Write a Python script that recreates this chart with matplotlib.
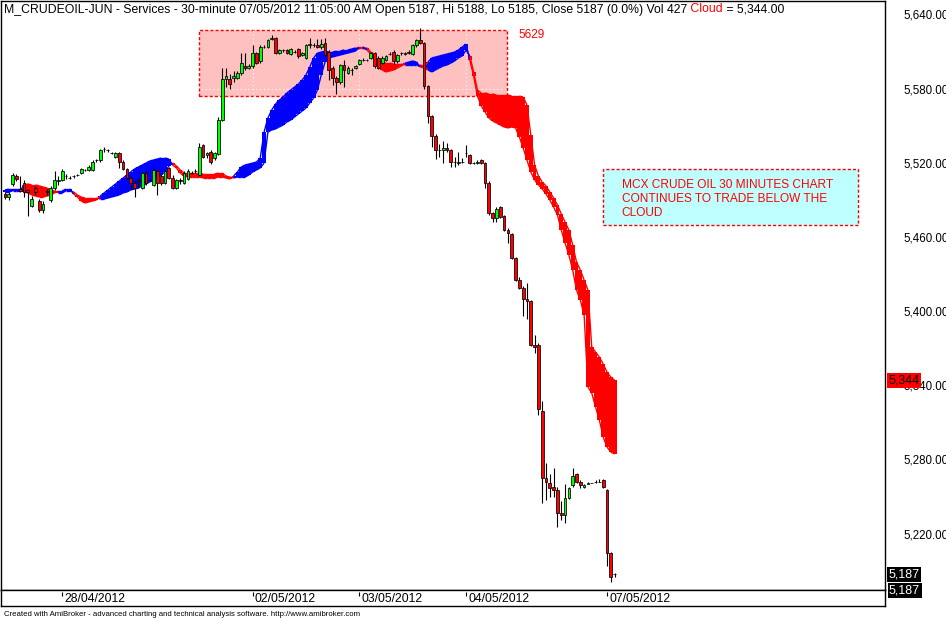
import numpy as np
import matplotlib
matplotlib.use("Agg")
import matplotlib.pyplot as plt
from matplotlib.patches import Rectangle
from matplotlib.collections import LineCollection
from matplotlib.transforms import blended_transform_factory

plt.rcParams['font.family'] = ['Liberation Sans', 'DejaVu Sans']

# 30-minute bars, M_CRUDEOIL-JUN, 27/04/2012 .. 07/05/2012
opens = [5495, 5492, 5503, 5509, 5499, 5504, 5498, 5485, 5500, 5489,
         5482, 5496, 5490, 5500, 5505, 5506, 5509, 5508, 5509, 5510,
         5512, 5514, 5514, 5514, 5522, 5522, 5531, 5530, 5528, 5525,
         5528, 5521, 5515, 5508, 5504, 5505, 5500, 5512, 5506, 5502,
         5513, 5509, 5504, 5516, 5508, 5500, 5506, 5504, 5507, 5512,
         5513, 5510, 5534, 5526, 5529, 5524, 5527, 5555, 5588, 5588,
         5589, 5589, 5593, 5598, 5597, 5598, 5609, 5602, 5614, 5614,
         5620, 5621, 5609, 5611, 5611, 5608, 5610, 5612, 5607, 5605,
         5615, 5615, 5615, 5614, 5617, 5610, 5597, 5589, 5585, 5599,
         5593, 5595, 5597, 5600, 5603, 5603, 5605, 5609, 5605, 5601,
         5603, 5608, 5610, 5602, 5609, 5608, 5609, 5608, 5615, 5619,
         5617, 5582, 5558, 5542, 5530, 5530, 5532, 5530, 5521, 5520,
         5521, 5528, 5526, 5520, 5520, 5522, 5520, 5504, 5479, 5475,
         5484, 5477, 5466, 5462, 5443, 5425, 5419, 5410, 5408, 5373,
         5373, 5319, 5265, 5261, 5258, 5255, 5237, 5235, 5249, 5259,
         5268, 5262, 5258, 5260, 5261, 5262, 5262, 5263, 5255, 5204,
         5187]
highs = [5496, 5496, 5512, 5511, 5509, 5506, 5499, 5493, 5501, 5491,
         5489, 5499, 5501, 5513, 5509, 5515, 5511, 5509, 5510, 5511,
         5516, 5515, 5518, 5522, 5523, 5531, 5533, 5531, 5529, 5529,
         5529, 5522, 5516, 5509, 5505, 5508, 5513, 5514, 5507, 5516,
         5514, 5511, 5514, 5517, 5510, 5507, 5508, 5513, 5515, 5513,
         5515, 5536, 5535, 5529, 5530, 5529, 5557, 5597, 5597, 5592,
         5594, 5594, 5609, 5609, 5600, 5615, 5610, 5615, 5615, 5620,
         5623, 5622, 5612, 5612, 5612, 5613, 5611, 5613, 5610, 5616,
         5621, 5617, 5620, 5620, 5621, 5611, 5598, 5590, 5600, 5603,
         5598, 5597, 5599, 5604, 5605, 5604, 5610, 5610, 5606, 5606,
         5607, 5610, 5611, 5608, 5610, 5610, 5611, 5616, 5620, 5629,
         5618, 5583, 5559, 5543, 5535, 5538, 5536, 5531, 5525, 5529,
         5524, 5534, 5527, 5521, 5522, 5523, 5521, 5505, 5480, 5484,
         5485, 5478, 5467, 5463, 5444, 5428, 5420, 5423, 5409, 5381,
         5374, 5327, 5277, 5268, 5273, 5258, 5246, 5260, 5258, 5273,
         5269, 5263, 5260, 5262, 5261, 5263, 5264, 5264, 5256, 5205,
         5188]
lows = [5491, 5490, 5501, 5505, 5496, 5492, 5477, 5484, 5494, 5480,
        5479, 5494, 5488, 5498, 5502, 5505, 5507, 5507, 5508, 5509,
        5511, 5513, 5513, 5513, 5521, 5521, 5529, 5529, 5527, 5524,
        5516, 5514, 5507, 5499, 5492, 5500, 5499, 5502, 5505, 5501,
        5494, 5502, 5503, 5507, 5499, 5499, 5503, 5503, 5506, 5511,
        5512, 5509, 5524, 5524, 5519, 5522, 5526, 5554, 5581, 5580,
        5585, 5588, 5591, 5595, 5596, 5597, 5600, 5601, 5613, 5613,
        5619, 5608, 5608, 5610, 5608, 5607, 5609, 5605, 5606, 5604,
        5613, 5614, 5613, 5612, 5606, 5587, 5583, 5576, 5584, 5581,
        5592, 5591, 5596, 5599, 5602, 5602, 5604, 5597, 5596, 5600,
        5602, 5607, 5600, 5601, 5607, 5607, 5608, 5607, 5614, 5616,
        5580, 5552, 5533, 5523, 5525, 5520, 5529, 5517, 5517, 5518,
        5520, 5525, 5519, 5519, 5519, 5519, 5500, 5478, 5472, 5472,
        5475, 5465, 5455, 5442, 5424, 5418, 5396, 5394, 5372, 5366,
        5316, 5245, 5247, 5250, 5250, 5225, 5231, 5229, 5248, 5258,
        5261, 5257, 5257, 5260, 5261, 5261, 5262, 5257, 5194, 5181,
        5185]
closes = [5492, 5495, 5510, 5507, 5497, 5496, 5496, 5491, 5496, 5482,
          5487, 5497, 5500, 5506, 5506, 5513, 5509, 5508, 5509, 5510,
          5515, 5514, 5517, 5521, 5522, 5530, 5531, 5530, 5528, 5528,
          5521, 5515, 5508, 5504, 5500, 5506, 5512, 5504, 5506, 5514,
          5504, 5504, 5513, 5508, 5500, 5506, 5505, 5512, 5513, 5512,
          5513, 5533, 5525, 5528, 5521, 5528, 5555, 5588, 5590, 5584,
          5590, 5593, 5601, 5597, 5598, 5609, 5601, 5614, 5614, 5619,
          5621, 5609, 5611, 5611, 5609, 5612, 5610, 5606, 5609, 5615,
          5616, 5615, 5614, 5616, 5607, 5595, 5589, 5585, 5599, 5595,
          5597, 5595, 5598, 5603, 5603, 5603, 5609, 5598, 5597, 5605,
          5606, 5608, 5602, 5607, 5609, 5609, 5610, 5615, 5619, 5617,
          5582, 5558, 5542, 5530, 5530, 5532, 5530, 5521, 5521, 5521,
          5521, 5528, 5520, 5520, 5521, 5520, 5504, 5479, 5475, 5483,
          5476, 5466, 5463, 5443, 5425, 5419, 5410, 5408, 5373, 5371,
          5321, 5265, 5262, 5257, 5255, 5237, 5235, 5249, 5257, 5267,
          5262, 5259, 5259, 5261, 5261, 5262, 5262, 5258, 5204, 5185,
          5187]

# Ichimoku leading spans (cloud), one value per bar
span_a = [5498.0, 5498.8, 5498.8, 5498.8, 5498.8, 5496.4, 5495.6, 5494.0, 5493.1, 5492.3,
          5492.3, 5493.1, 5494.0, 5495.6, 5497.2, 5497.2, 5498.8, 5498.8, 5494.8, 5492.3,
          5489.1, 5487.5, 5488.3, 5489.1, 5489.9, 5493.1, 5495.6, 5498.0, 5500.4, 5502.9,
          5505.3, 5507.7, 5510.1, 5512.6, 5515.0, 5516.6, 5518.2, 5519.8, 5521.5, 5522.3,
          5523.1, 5523.9, 5523.9, 5523.1, 5518.2, 5515.8, 5511.7, 5509.3, 5508.5, 5508.5,
          5508.5, 5508.5, 5507.7, 5507.7, 5507.7, 5507.7, 5508.5, 5508.5, 5507.7, 5506.9,
          5509.3, 5512.6, 5516.6, 5518.2, 5519.0, 5519.8, 5520.6, 5523.9, 5544.9, 5556.2,
          5562.7, 5567.6, 5570.8, 5573.2, 5576.5, 5578.9, 5581.3, 5583.7, 5587.0, 5591.0,
          5597.5, 5604.8, 5608.8, 5609.6, 5610.4, 5609.6, 5609.6, 5610.4, 5610.4, 5611.3,
          5611.3, 5612.1, 5612.9, 5612.1, 5613.7, 5611.3, 5608.0, 5603.2, 5598.3, 5595.1,
          5593.5, 5594.3, 5595.1, 5596.7, 5598.3, 5600.7, 5601.5, 5602.4, 5601.5, 5597.5,
          5597.5, 5601.5, 5604.8, 5605.6, 5606.4, 5607.2, 5608.0, 5608.8, 5609.6, 5611.3,
          5613.7, 5616.1, 5603.2, 5590.2, 5574.0, 5565.9, 5561.1, 5556.2, 5553.8, 5552.2,
          5550.6, 5549.0, 5548.2, 5549.0, 5548.2, 5540.9, 5532.0, 5522.3, 5512.6, 5506.1,
          5502.1, 5498.8, 5494.8, 5489.9, 5484.2, 5477.8, 5465.6, 5455.1, 5445.4, 5433.3,
          5417.1, 5409.0, 5396.9, 5338.6, 5333.8, 5322.4, 5311.9, 5298.2, 5290.1, 5286.0,
          5284.4]
span_b = [5496.4, 5496.4, 5497.2, 5497.2, 5497.2, 5502.1, 5502.9, 5502.1, 5502.1, 5501.3,
          5500.4, 5499.6, 5498.0, 5497.2, 5495.6, 5495.6, 5497.2, 5497.2, 5496.4, 5494.0,
          5492.3, 5491.5, 5491.5, 5491.5, 5491.5, 5490.7, 5490.7, 5491.5, 5492.3, 5493.1,
          5494.0, 5495.6, 5496.4, 5498.0, 5498.8, 5499.6, 5501.3, 5502.9, 5504.5, 5506.1,
          5508.5, 5510.1, 5512.6, 5517.4, 5519.8, 5517.4, 5514.2, 5511.7, 5511.7, 5511.7,
          5511.7, 5511.7, 5510.9, 5510.9, 5510.9, 5510.9, 5511.7, 5511.7, 5509.3, 5508.5,
          5507.7, 5508.5, 5508.5, 5508.5, 5510.1, 5512.6, 5514.2, 5515.8, 5519.8, 5544.9,
          5546.5, 5547.4, 5549.0, 5550.6, 5553.0, 5554.6, 5557.1, 5559.5, 5561.9, 5564.3,
          5568.4, 5572.4, 5578.9, 5591.0, 5601.5, 5604.8, 5605.6, 5606.4, 5607.2, 5608.0,
          5608.8, 5609.6, 5610.4, 5613.7, 5612.1, 5612.9, 5609.6, 5605.6, 5602.4, 5601.5,
          5600.7, 5600.7, 5599.9, 5599.9, 5599.9, 5599.1, 5599.1, 5599.1, 5599.1, 5599.1,
          5598.3, 5595.1, 5593.5, 5595.1, 5596.7, 5598.3, 5599.1, 5600.7, 5602.4, 5604.8,
          5606.4, 5611.3, 5606.4, 5593.5, 5578.9, 5576.5, 5576.5, 5575.7, 5575.7, 5574.8,
          5574.8, 5574.8, 5574.8, 5574.0, 5574.0, 5574.0, 5573.2, 5566.8, 5542.5, 5518.2,
          5509.3, 5504.5, 5501.3, 5496.4, 5491.5, 5485.9, 5478.6, 5472.1, 5465.6, 5453.5,
          5439.7, 5433.3, 5425.2, 5417.1, 5371.0, 5366.9, 5362.9, 5357.2, 5350.7, 5346.7,
          5344.0]

date_labels = ["28/04/2012", "02/05/2012", "03/05/2012", "04/05/2012", "07/05/2012"]
date_bars = [15, 65, 93, 121, 158]
price_ticks = [5220, 5280, 5340, 5400, 5460, 5520, 5580, 5640]

note_lines = ["MCX CRUDE OIL 30 MINUTES CHART",
              "CONTINUES TO TRADE BELOW THE",
              "CLOUD"]

title_text = ("M_CRUDEOIL-JUN - Services - 30-minute 07/05/2012 11:05:00 AM "
              "Open 5187, Hi 5188, Lo 5185, Close 5187 (0.0%) Vol 427")
footer = ("Created with AmiBroker - advanced charting and technical analysis "
          "software. http://www.amibroker.com")

W, H = 946, 618
fig = plt.figure(figsize=(W / 100, H / 100), dpi=100)
fig.patch.set_facecolor('white')

ax = fig.add_axes([0.5 / W, (H - 590) / H, 884.5 / W, 589.5 / H])
ax.set_xlim(-1.18, 230.97)
ax.set_ylim(5174.4, 5651.3)
for sp in ax.spines.values():
    sp.set_color('black')
    sp.set_linewidth(1.0)

o = np.array(opens, float)
h = np.array(highs, float)
l = np.array(lows, float)
c = np.array(closes, float)
a = np.array(span_a)
b = np.array(span_b)
idx = np.arange(len(c))

# highlighted zone around the top
ax.add_patch(Rectangle((50.9, 5574.4), 80.9, 53.0, facecolor='#ffc0c0',
                       edgecolor='#ff0000', linestyle=(0, (2.2, 1.5)),
                       linewidth=1.0, zorder=1))
ax.text(134.9, 5621.0, str(int(h.max())), color='#ff0000', fontsize=8.5,
        va='baseline', ha='left', zorder=6)

# white dotted grid (only visible on the pink zone)
ax.hlines(price_ticks, -2, 232, colors='white', linestyles=(0, (1, 2.5)),
          linewidth=0.8, zorder=1.5)
ax.vlines(date_bars, 5170, 5660, colors='white', linestyles=(0, (1, 2.5)),
          linewidth=0.8, zorder=1.5)

# cloud: stepped band, blue where span A is above span B
xs = np.column_stack([idx - 0.5, idx + 0.5]).ravel()
lo_s = np.repeat(np.minimum(a, b), 2)
hi_s = np.repeat(np.maximum(a, b), 2)
bull = np.repeat(a >= b, 2)
ax.fill_between(xs, lo_s, hi_s, where=bull, color='#0000ff', lw=0, zorder=2)
ax.fill_between(xs, lo_s, hi_s, where=~bull, color='#ff0000', lw=0, zorder=2)
cloud_col = np.where(a >= b, '#0000ff', '#ff0000')
for span in (a, b):
    segs = [[(i, span[i]), (i + 1, span[i + 1])] for i in idx[:-1]]
    ax.add_collection(LineCollection(segs, colors=cloud_col[:-1],
                                     linewidths=1.0, zorder=2))

# candles
body_col = np.where(c > o, '#00ff00', '#ff0000')
ax.vlines(idx, l, h, colors='black', linewidth=0.8, zorder=3)
ax.bar(idx, c - o, bottom=o, width=0.72, color=body_col,
       edgecolor='black', linewidth=0.55, zorder=4)

# note box
ax.add_patch(Rectangle((157.0, 5469.7), 66.9, 45.3, facecolor='#c0ffff',
                       edgecolor='#ff0000', linestyle=(0, (2.2, 1.5)),
                       linewidth=1.0, zorder=5))
for line, yb in zip(note_lines, [5499.8, 5488.5, 5477.2]):
    ax.text(161.9, yb, line, color='#ff0000', fontsize=8.6,
            va='baseline', ha='left', zorder=6)

# right price axis
ax.set_xticks([])
ax.yaxis.tick_right()
ax.set_yticks(price_ticks)
ax.set_yticklabels([f"{p:,.2f}" for p in price_ticks], fontsize=8.3)
ax.tick_params(axis='y', length=0, pad=13)

trans = blended_transform_factory(ax.transAxes, ax.transData)
ax.text(1.0037, max(a[-1], b[-1]), f"{max(a[-1], b[-1]):,.0f}",
        transform=trans, ha='left', va='center', fontsize=9, color='black',
        bbox=dict(boxstyle='square,pad=0.12', fc='#ff0000', ec='none'),
        clip_on=False, zorder=7)
ax.text(1.0037, c[-1], f"{c[-1]:,.0f}", transform=trans, ha='left',
        va='center', fontsize=9, color='white',
        bbox=dict(boxstyle='square,pad=0.12', fc='black', ec='none'),
        clip_on=False, zorder=7)
fig.text(889 / W, (H - 590.8) / H, f"{c[-1]:,.0f}", ha='left', va='center',
         fontsize=9, color='white',
         bbox=dict(boxstyle='square,pad=0.12', fc='black', ec='none'))

# date axis band
ax2 = fig.add_axes([0.5 / W, (H - 606) / H, 884.5 / W, 16 / H])
ax2.set_xlim(ax.get_xlim())
ax2.set_ylim(0, 1)
ax2.set_xticks([])
ax2.set_yticks([])
for sp in ax2.spines.values():
    sp.set_color('black')
    sp.set_linewidth(1.0)
ax2.vlines(date_bars, 0.62, 0.88, colors='black', linewidth=0.8)
for xb, lab in zip(date_bars, date_labels):
    ax2.text(xb + 0.6, 0.42, lab, ha='left', va='center', fontsize=8.8)

# title with coloured part
renderer = fig.canvas.get_renderer()
x0 = 4
for s, col in [(title_text, 'black'), (" Cloud", '#ff0000'),
               (f" = {max(a[-1], b[-1]):,.2f}", 'black')]:
    t = fig.text(x0 / W, (H - 12.5) / H, s, color=col, fontsize=8.8,
                 ha='left', va='baseline')
    x0 = t.get_window_extent(renderer).x1

fig.text(4 / W, (H - 615.5) / H, footer, fontsize=5.55, ha='left',
         va='baseline')

fig.savefig("out.png", dpi=100)
